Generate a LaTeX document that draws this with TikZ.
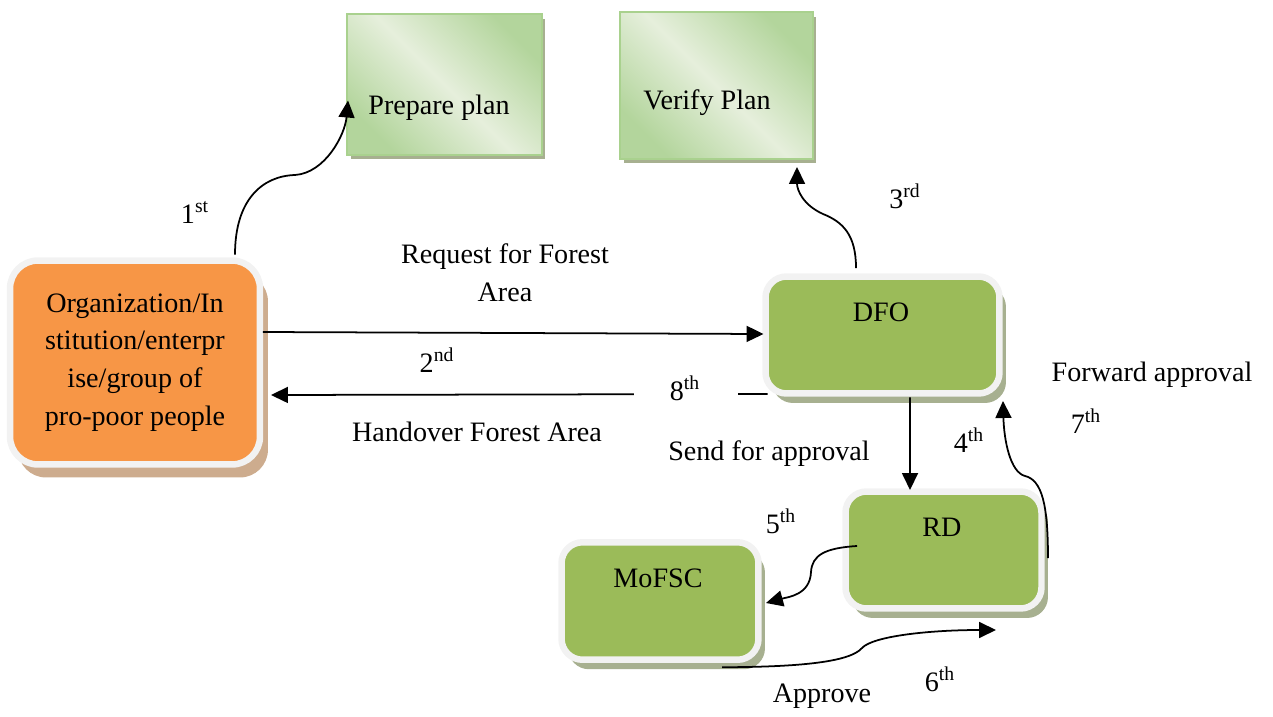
\documentclass[tikz,border=0pt]{standalone}
\usepackage{fontspec}
\setmainfont{Liberation Serif}
\usetikzlibrary{arrows.meta,calc,shadows,backgrounds}
\definecolor{orangeF}{HTML}{F79646}
\definecolor{greenF}{HTML}{9BBB59}
\definecolor{boxW}{HTML}{F2F2F2}
\definecolor{shadowO}{HTML}{CDAC8E}
\definecolor{shadowG}{HTML}{A7B090}
\definecolor{planG}{HTML}{B3D59C}
\definecolor{planL}{HTML}{E6EFDC}
\definecolor{planB}{HTML}{A9D18E}
\begin{document}
\begin{tikzpicture}[x=0.02cm,y=-0.02cm,
  txt/.style={font=\fontsize{16}{21.5}\selectfont, inner sep=0pt, align=center},
  conn/.style={line width=1pt, -{Triangle[length=0.34cm,width=0.32cm]}},
  rbox/.style={draw=boxW, line width=0.13cm, inner sep=0pt, outer sep=0pt},
  orgbox/.style={rbox, rounded corners=0.56cm, fill=orangeF,
    general shadow={fill=shadowO, shadow xshift=0.16cm, shadow yshift=-0.26cm}},
  grbox/.style={rbox, rounded corners=0.42cm, fill=greenF,
    general shadow={fill=shadowG, shadow xshift=0.13cm, shadow yshift=-0.19cm}},
  planbox/.style={draw=planB, line width=1.2pt, inner sep=0pt, outer sep=0pt,
    top color=planG, bottom color=planG, middle color=planL, shading angle=-45}]
\useasboundingbox (0,0) rectangle (1273,716);

% boxes
\node[orgbox, minimum width=5.0cm, minimum height=4.08cm,
      font=\fontsize{16}{21.5}\selectfont, align=center] (org) at (135,362.5)
      {Organization/In\\stitution/enterpr\\ise/group of\\pro-poor people};
\node[planbox, minimum width=3.9cm, minimum height=2.82cm] (prep) at (444.5,84.5) {};
\node[txt] (prepT) at (439,108) {Prepare plan};
\node[planbox, minimum width=3.86cm, minimum height=2.94cm] (ver) at (716.5,85.5) {};
\node[txt] (verT) at (707,103) {Verify Plan};
\node[grbox, minimum width=4.68cm, minimum height=2.34cm] (dfo) at (882.5,335) {};
\node[txt] (dfoT) at (881,312) {DFO};
\node[grbox, minimum width=3.92cm, minimum height=2.34cm] (rd) at (943.5,550) {};
\node[txt] (rdT) at (942,527) {RD};
\node[grbox, minimum width=3.94cm, minimum height=2.35cm] (mof) at (660,601) {};
\node[txt] (mofT) at (658,578) {MoFSC};

\begin{scope}[on background layer]
  \fill[shadowG] ($(prep.north west)+(4,5)$) rectangle ($(prep.south east)+(3,4)$);
  \fill[shadowG] ($(ver.north west)+(4,5)$) rectangle ($(ver.south east)+(3,4)$);
\end{scope}

% connectors
\draw[conn] ($(org.north)+(100,-6)$) .. controls (235,200) and (262,176) .. (295,175)
  .. controls (325,173) and (345,135) .. ($(prep.west)+(1,16)$);
\draw[conn] ($(org.east)+(3,-30.5)$) -- ($(dfo.west)+(-2,-1)$);
\draw[conn] ($(dfo.south west)+(2,0.5)$) -- node[pos=0.165, fill=white, minimum width=2.08cm,
  minimum height=0.5cm, inner sep=0pt] (gap8) {} ($(org.east)+(11,32.5)$);
\draw[conn] ($(dfo.north)+(-26.5,-8.5)$) .. controls (856,235) and (843,222) .. (823,214)
  .. controls (803,205) and (797,190) .. ($(ver.south)+(80.5,8)$);
\draw[conn] ($(dfo.south)+(27.5,4)$) -- ($(rd.north)+(-33.5,-1.5)$);
\draw[conn] ($(rd.west)+(11.5,-4)$) .. controls (825,548) and (812,555) .. (811,572)
  .. controls (810,595) and (788,597) .. ($(mof.east)+(7.5,2)$);
\draw[conn] ($(mof.south)+(62,7.5)$) .. controls (800,667) and (850,662) .. (862,648)
  .. controls (873,636) and (930,630) .. ($(rd.south)+(52.5,21.5)$);
\draw[conn] ($(rd.east)+(6.5,8)$) .. controls (1048,505) and (1042,480) .. (1025,476)
  .. controls (1010,472) and (1004,440) .. ($(dfo.south east)+(3.5,7.5)$);

% labels
\node[txt] (l1) at (195,212) {1\textsuperscript{st}};
\node[txt] (lreq) at (505,273) {Request for Forest\\Area};
\node[txt] (l2) at (437,360) {2\textsuperscript{nd}};
\node[txt] (l8) at (685,388) {8\textsuperscript{th}};
\node[txt] (lhand) at (477,432) {Handover Forest Area};
\node[txt] (l3) at (905,196) {3\textsuperscript{rd}};
\node[txt] (lsend) at (769,454) {Send for approval};
\node[txt] (l4) at (969,440) {4\textsuperscript{th}};
\node[txt] (lfwd) at (1152,375) {Forward approval};
\node[txt] (l7) at (1086,421) {7\textsuperscript{th}};
\node[txt] (l5) at (781,521) {5\textsuperscript{th}};
\node[txt] (l6) at (940,679) {6\textsuperscript{th}};
\node[txt] (lapp) at (822,696) {Approve};
\end{tikzpicture}
\end{document}
